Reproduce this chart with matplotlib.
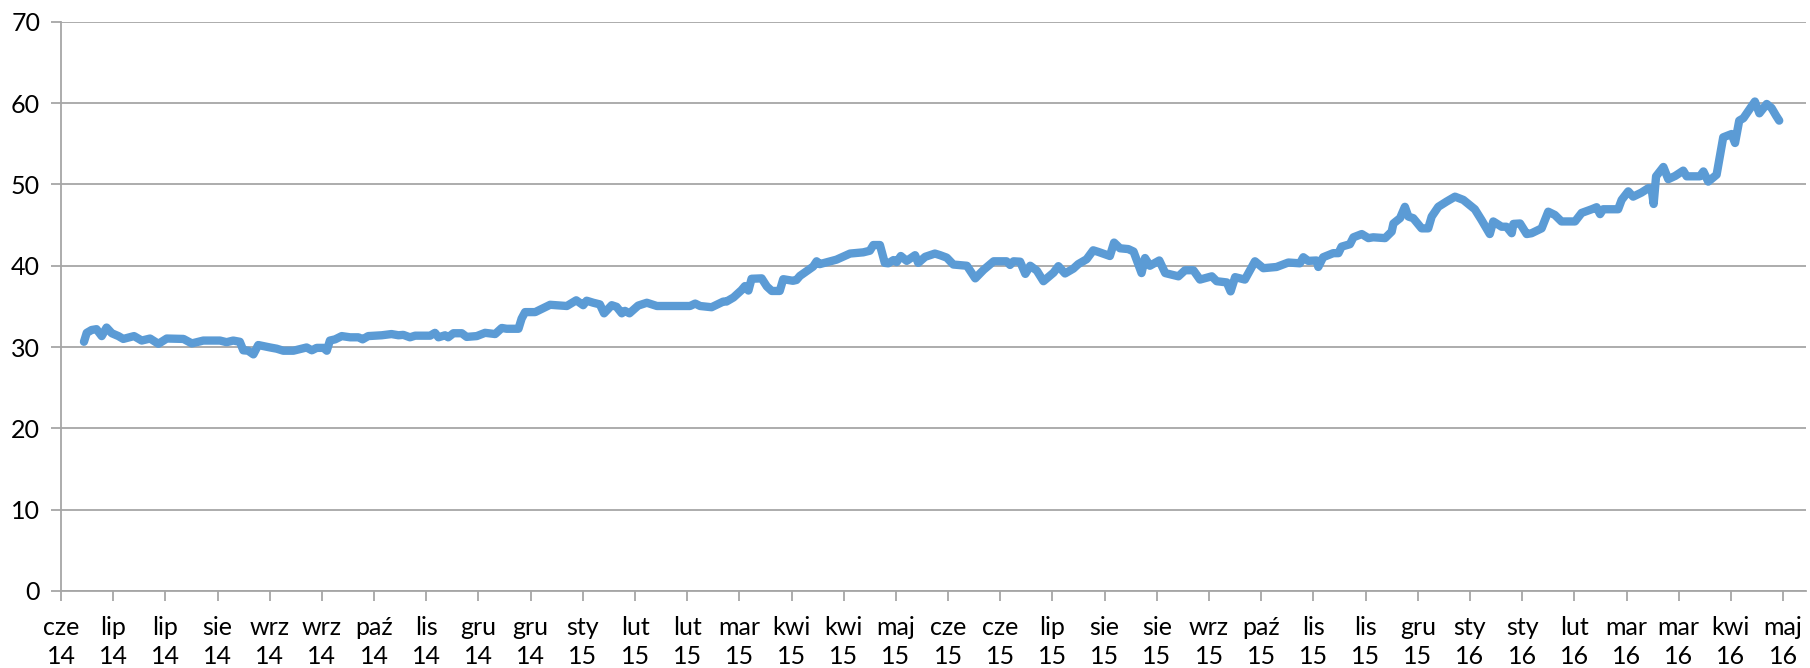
import matplotlib
matplotlib.use("Agg")
import matplotlib.pyplot as plt

# trading-day index and price
days = [
    6.6, 7.4, 8.8, 10.2, 11.7, 13.1, 14.6, 16.5, 17.9, 21.0, 23.2, 25.6, 28.0, 30.4,
    35.2, 37.6, 40.9, 45.7, 47.6, 49.5, 51.4, 52.4, 53.8, 55.3, 56.7, 60.1, 62.0,
    63.9, 66.8, 70.6, 72.1, 73.5, 75.5, 76.4, 77.3, 78.8, 80.7, 83.1, 85.5, 86.7,
    88.3, 92.2, 95.0, 97.0, 98.4, 100.3, 101.8, 106.1, 107.5, 108.5, 110.4, 111.3,
    112.8, 115.2, 116.6, 119.5, 121.9, 124.8, 126.7, 128.1, 131.5, 132.4, 133.4,
    136.3, 140.6, 145.4, 148.1, 150.1, 151.1, 153.0, 154.9, 156.1, 158.3, 159.7,
    161.2, 162.1, 163.4, 165.9, 168.4, 171.3, 180.8, 182.3, 183.7, 187.0, 190.4,
    191.3, 193.3, 195.6, 196.6, 197.6, 198.5, 201.4, 202.9, 204.3, 206.6, 207.6,
    210.4, 211.4, 212.4, 216.2, 217.2, 218.1, 222.9, 226.8, 230.6, 232.5, 233.5,
    235.4, 236.8, 237.8, 239.3, 240.2, 241.4, 243.1, 245.5, 246.4, 248.4, 251.2,
    252.7, 254.6, 256.5, 260.4, 262.8, 265.2, 268.1, 271.8, 272.8, 273.8, 275.7,
    277.2, 278.6, 280.5, 282.4, 285.3, 286.7, 288.6, 291.0, 292.4, 294.8, 296.7,
    298.2, 301.5, 302.7, 304.4, 306.8, 308.3, 310.6, 311.6, 313.0, 315.7, 317.4,
    321.2, 323.1, 325.5, 327.4, 330.8, 332.2, 335.1, 336.2, 337.5, 340.3, 343.2,
    345.6, 349.4, 352.8, 356.1, 357.1, 358.5, 360.9, 361.4, 362.8, 365.7, 367.2,
    368.1, 370.5, 371.5, 373.9, 375.8, 377.2, 380.6, 382.5, 383.0, 384.9, 386.3,
    387.3, 388.7, 391.1, 393.0, 394.0, 395.9, 398.3, 400.7, 403.1, 406.4, 408.3,
    410.7, 411.7, 414.1, 415.5, 417.0, 417.5, 419.4, 421.3, 422.7, 425.6, 427.5,
    429.4, 431.3, 435.2, 437.1, 440.0, 441.4, 442.4, 443.3, 447.6, 448.6, 450.5,
    451.9, 454.3, 456.3, 457.2, 457.8, 458.5, 460.6, 462.0, 464.0, 466.3, 467.3,
    471.1, 472.1, 473.5, 475.9, 477.8, 480.2, 481.2, 482.4, 483.6, 486.9, 488.2,
    490.3, 491.7, 493.0, 493.9,
]
prices = [
    30.65, 31.75, 32.1, 32.2, 31.35, 32.4, 31.7, 31.35, 31.0, 31.35, 30.8, 31.05, 30.4, 31.05,
    31.0, 30.45, 30.8, 30.8, 30.6, 30.8, 30.65, 29.6, 29.55, 29.1, 30.25, 29.95, 29.8,
    29.55, 29.55, 29.95, 29.6, 29.9, 29.9, 29.55, 30.8, 30.95, 31.35, 31.2, 31.2, 30.95,
    31.35, 31.45, 31.6, 31.45, 31.5, 31.2, 31.4, 31.4, 31.75, 31.2, 31.45, 31.2,
    31.7, 31.7, 31.25, 31.35, 31.75, 31.6, 32.35, 32.25, 32.25, 33.5, 34.3,
    34.3, 35.2, 35.05, 35.75, 35.15, 35.7, 35.45, 35.25, 34.15, 35.15, 34.95,
    34.15, 34.45, 34.15, 35.1, 35.45, 35.05, 35.05, 35.35, 35.05, 34.9, 35.6,
    35.6, 36.1, 37.0, 37.5, 36.95, 38.4, 38.45, 37.45, 36.9, 36.9, 38.35,
    38.15, 38.25, 38.75, 39.9, 40.55, 40.2, 40.75, 41.5, 41.65, 41.85, 42.55,
    42.55, 40.35, 40.3, 40.7, 40.45, 41.2, 40.6, 41.3, 40.35, 41.1, 41.5,
    41.3, 41.0, 40.15, 40.0, 38.45, 39.5, 40.55, 40.55, 40.1, 40.55, 40.5,
    39.0, 40.0, 39.4, 38.1, 39.15, 39.95, 39.05, 39.65, 40.2, 40.8, 41.9,
    41.7, 41.2, 42.85, 42.15, 42.05, 41.75, 39.1, 40.95, 40.0, 40.65, 39.1,
    38.7, 39.45, 39.45, 38.3, 38.7, 38.1, 37.95, 36.85, 38.6, 38.3, 40.55,
    39.7, 39.85, 40.4, 40.3, 41.05, 40.6, 40.65, 39.85, 41.05, 41.55, 41.55,
    42.35, 42.65, 43.5, 43.9, 43.4, 43.5, 43.4, 44.2, 45.2, 45.85, 47.25,
    46.05, 45.85, 44.6, 44.6, 46.05, 47.25, 47.9, 48.5, 48.1, 46.95, 45.65,
    43.9, 45.45, 44.8, 44.8, 44.0, 45.15, 45.2, 43.9, 44.0, 44.6, 46.65,
    46.25, 45.45, 45.45, 46.5, 46.95, 47.2, 46.35, 46.95, 46.95, 48.1, 49.15,
    48.5, 49.0, 49.55, 49.5, 47.6, 51.0, 52.15, 50.65, 51.05, 51.7, 51.0,
    51.0, 51.6, 50.35, 51.2, 55.8, 56.2, 55.1, 57.85, 58.15, 60.2, 58.75,
    59.9, 59.4, 58.45, 57.85,
]

months = ["cze", "lip", "lip", "sie", "wrz", "wrz", "paź", "lis", "gru", "gru",
          "sty", "lut", "lut", "mar", "kwi", "kwi", "maj", "cze", "cze", "lip",
          "sie", "sie", "wrz", "paź", "lis", "lis", "gru",
          "sty", "sty", "lut", "mar", "mar", "kwi", "maj"]
years = ["14"] * 10 + ["15"] * 17 + ["16"] * 7
tick_step = 15

plt.rcParams["font.family"] = ["Lato", "DejaVu Sans"]

fig = plt.figure(figsize=(18.1, 6.68), dpi=100)
ax = fig.add_axes([0.0337, 0.1153, 0.9641, 0.852])

ax.plot(days, prices, color="#5B9BD5", lw=6,
        solid_capstyle="round", solid_joinstyle="round", zorder=3)

grid_c = "#A6A6A6"
ax.set_ylim(0, 70)
ax.set_yticks(range(0, 71, 10))
ax.yaxis.grid(True, color=grid_c, lw=1.3)
ax.set_axisbelow(True)

ticks = [i * tick_step for i in range(len(months))]
ax.set_xlim(0, 501.6)
ax.set_xticks(ticks)
ax.set_xticklabels([f"{m}\n{y}" for m, y in zip(months, years)], linespacing=1.3)

for s in ["top", "right"]:
    ax.spines[s].set_visible(False)
for s in ["left", "bottom"]:
    ax.spines[s].set_color(grid_c)
    ax.spines[s].set_linewidth(1.3)

ax.tick_params(axis="both", colors=grid_c, length=7, width=1.3, labelcolor="black", labelsize=18)
ax.tick_params(axis="x", pad=11)
ax.tick_params(axis="y", pad=8)

fig.savefig("out.png", dpi=100)
